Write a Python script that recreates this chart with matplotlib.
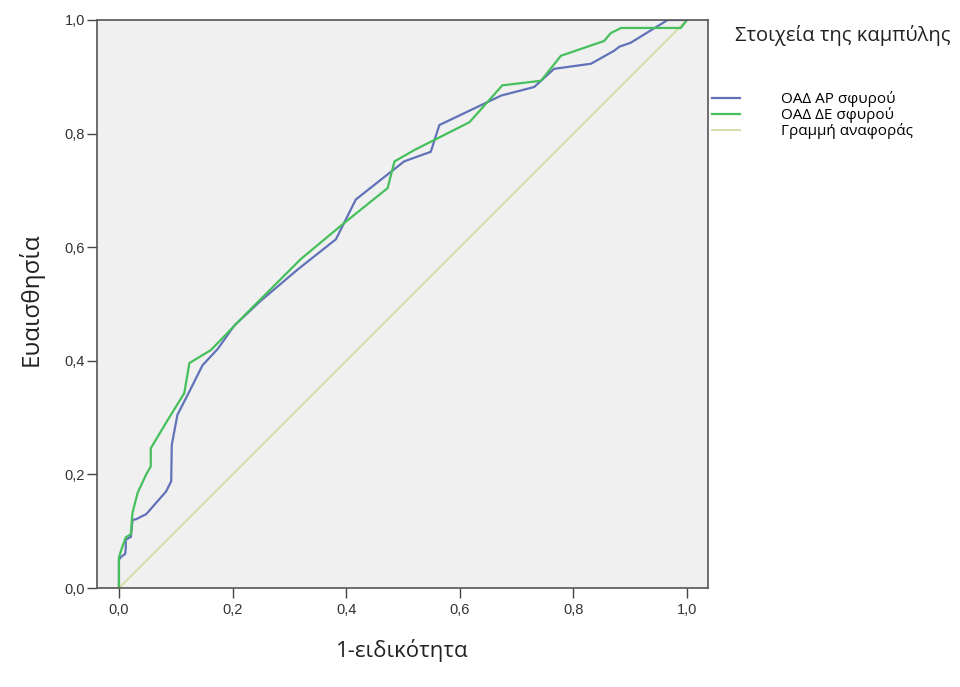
import matplotlib
matplotlib.use("Agg")
import matplotlib.pyplot as plt

# ROC curves: 1 - specificity vs sensitivity
fpr_ar = [0.0, 0.0, 0.004, 0.011, 0.012, 0.012, 0.021, 0.024, 0.030, 0.048,
          0.083, 0.092, 0.093, 0.103, 0.124, 0.147, 0.174, 0.203, 0.250,
          0.315, 0.382, 0.417, 0.502, 0.549, 0.564, 0.673, 0.731, 0.766,
          0.831, 0.872, 0.881, 0.901, 0.966, 1.0]
tpr_ar = [0.0, 0.050, 0.055, 0.060, 0.070, 0.085, 0.090, 0.120, 0.121, 0.130,
          0.170, 0.188, 0.252, 0.305, 0.346, 0.392, 0.421, 0.462, 0.506,
          0.561, 0.614, 0.684, 0.751, 0.768, 0.815, 0.867, 0.882, 0.914,
          0.923, 0.946, 0.953, 0.960, 1.0, 1.0]

fpr_de = [0.0, 0.0, 0.005, 0.012, 0.021, 0.023, 0.024, 0.033, 0.048, 0.056,
          0.056, 0.086, 0.115, 0.124, 0.162, 0.221, 0.320, 0.397, 0.473,
          0.485, 0.520, 0.617, 0.675, 0.743, 0.778, 0.854, 0.866, 0.884,
          0.989, 1.0]
tpr_de = [0.0, 0.054, 0.070, 0.089, 0.095, 0.124, 0.133, 0.168, 0.200, 0.214,
          0.246, 0.296, 0.343, 0.396, 0.419, 0.480, 0.579, 0.643, 0.704,
          0.751, 0.771, 0.820, 0.885, 0.893, 0.937, 0.963, 0.977, 0.986,
          0.986, 1.0]

ref_line = [0.0, 1.0]

labels = ["ΟΑΔ ΑΡ σφυρού", "ΟΑΔ ΔΕ σφυρού", "Γραμμή αναφοράς"]
colors = ["#6172b8", "#46c05c", "#d8dca8"]

ticks = [0.0, 0.2, 0.4, 0.6, 0.8, 1.0]
tick_labels = ["0,0", "0,2", "0,4", "0,6", "0,8", "1,0"]

fig = plt.figure(figsize=(9.6, 6.87), dpi=100)
ax = fig.add_axes([0.101, 0.1441, 0.6365, 0.8268])
ax.set_facecolor("#f0f0f0")

l1, = ax.plot(fpr_ar, tpr_ar, color=colors[0], lw=1.6)
l2, = ax.plot(fpr_de, tpr_de, color=colors[1], lw=1.6)
l3, = ax.plot(ref_line, ref_line, color=colors[2], lw=1.4, zorder=1)

ax.set_xlim(-0.0387, 1.037)
ax.set_ylim(0, 1)

ax.set_xticks(ticks)
ax.set_xticklabels(tick_labels)
ax.set_yticks(ticks)
ax.set_yticklabels(tick_labels)
ax.tick_params(direction="out", length=7, width=1, color="#444444",
               labelsize=10.5, labelcolor="#333333")
ax.tick_params(axis="x", pad=3.5)
ax.tick_params(axis="y", pad=1.5)
for lab in ax.get_xticklabels() + ax.get_yticklabels():
    lab.set_family("Liberation Sans")

for s in ax.spines.values():
    s.set_color("#555555")
    s.set_linewidth(1.2)

ax.set_xlabel("1-ειδικότητα", fontsize=16, family="Open Sans",
              color="#222222", labelpad=16)
ax.set_ylabel("Ευαισθησία", fontsize=17.5, family="Open Sans",
              color="#222222")
ax.yaxis.set_label_coords(-0.088, 0.508)

fig.text(0.766, 0.948, "Στοιχεία της καμπύλης", fontsize=14.5,
         family="Open Sans", color="#222222", va="center")
leg = fig.legend([l1, l2, l3], labels, loc="upper left",
                 bbox_to_anchor=(0.742, 0.867), frameon=False,
                 borderpad=0, borderaxespad=0,
                 handlelength=1.8, handletextpad=2.7,
                 labelspacing=0.0, prop={"family": "Open Sans", "size": 11})

fig.savefig("out.png", dpi=100, facecolor="white")
